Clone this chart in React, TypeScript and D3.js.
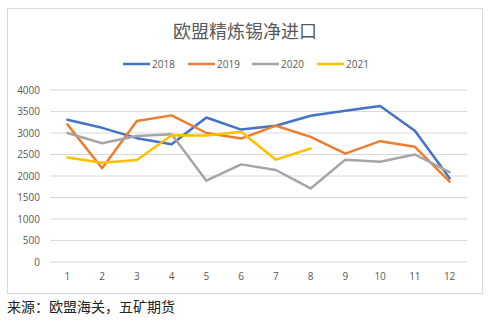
import React from "react";
import * as d3 from "d3";

const months = ["1", "2", "3", "4", "5", "6", "7", "8", "9", "10", "11", "12"];
const yTicks = [0, 500, 1000, 1500, 2000, 2500, 3000, 3500, 4000];
const seriesNames = ["2018", "2019", "2020", "2021"];
const colors = ["#4472C4", "#ED7D31", "#A5A5A5", "#FFC000"];
const v2018 = [3310, 3120, 2880, 2740, 3360, 3080, 3170, 3400, 3520, 3630, 3050, 1950];
const v2019 = [3200, 2180, 3280, 3410, 3000, 2870, 3170, 2910, 2520, 2810, 2680, 1870];
const v2020 = [3000, 2760, 2930, 2970, 1890, 2270, 2140, 1710, 2380, 2330, 2500, 2090];
const v2021 = [2430, 2310, 2370, 2950, 2940, 3030, 2380, 2640];
const seriesValues = [v2018, v2019, v2020, v2021];

const W = 500;
const H = 322;
const plot = { left: 50, right: 467, top: 90, bottom: 262 };
const latin = "'Open Sans', 'Noto Sans', sans-serif";
const cjk = "'Noto Sans CJK SC', sans-serif";

export default function App() {
  const x = d3
    .scalePoint<string>()
    .domain(months)
    .range([plot.left, plot.right])
    .padding(0.5);
  const y = d3.scaleLinear().domain([0, 4000]).range([plot.bottom, plot.top]);
  const line = d3
    .line<number>()
    .x((_, i) => x(months[i]) as number)
    .y((d) => y(d));

  const legendX = [123, 188, 252, 317];

  return (
    <svg
      width={W}
      height={H}
      style={{ position: "absolute", left: 0, top: 0, background: "#fff" }}
    >
      <rect x={7.5} y={8.5} width={475} height={285} fill="#fff" stroke="#D9D9D9" />
      <text
        x={245}
        y={38}
        textAnchor="middle"
        fontFamily={cjk}
        fontSize={18}
        fill="#595959"
      >
        欧盟精炼锡净进口
      </text>
      {seriesNames.map((n, i) => (
        <g key={n}>
          <line
            x1={legendX[i]}
            x2={legendX[i] + 27}
            y1={64}
            y2={64}
            stroke={colors[i]}
            strokeWidth={2.5}
          />
          <text
            x={legendX[i] + 29}
            y={67.5}
            fontFamily={latin}
            fontSize={10}
            fill="#595959"
          >
            {n}
          </text>
        </g>
      ))}
      {yTicks.map((t) => (
        <g key={t}>
          <line
            x1={plot.left}
            x2={plot.right}
            y1={y(t)}
            y2={y(t)}
            stroke="#D9D9D9"
            strokeWidth={1}
          />
          <text
            x={40}
            y={y(t) + 3.5}
            textAnchor="end"
            fontFamily={latin}
            fontSize={10}
            fill="#595959"
          >
            {t}
          </text>
        </g>
      ))}
      {months.map((m) => (
        <text
          key={m}
          x={x(m)}
          y={280}
          textAnchor="middle"
          fontFamily={latin}
          fontSize={10}
          fill="#595959"
        >
          {m}
        </text>
      ))}
      {seriesValues.map((vals, i) => (
        <path
          key={seriesNames[i]}
          d={line(vals) || ""}
          fill="none"
          stroke={colors[i]}
          strokeWidth={2.5}
          strokeLinejoin="round"
          strokeLinecap="round"
        />
      ))}
      <text x={7} y={312} fontFamily={cjk} fontSize={14} fill="#222">
        来源：欧盟海关，五矿期货
      </text>
    </svg>
  );
}
